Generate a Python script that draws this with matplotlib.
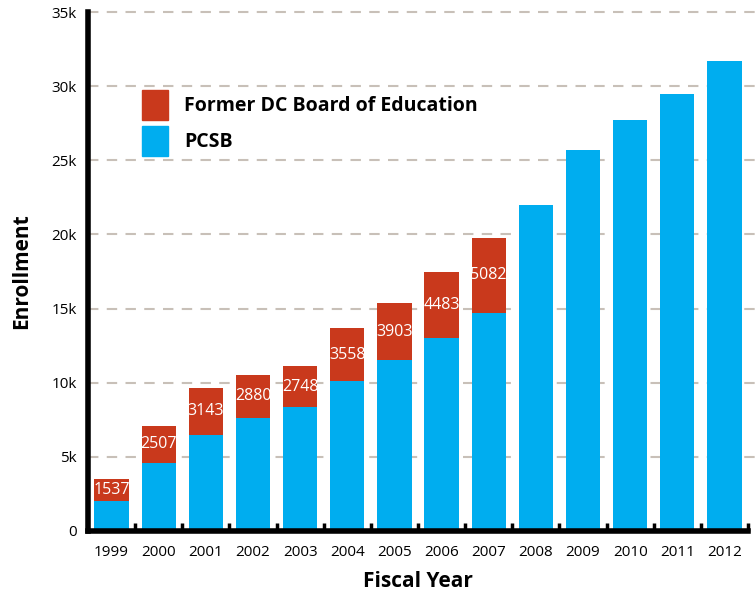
import matplotlib
matplotlib.use("Agg")
from matplotlib import pyplot as plt
from matplotlib.patches import Patch
import numpy as np

plt.rcParams['font.family'] = ['Open Sans', 'DejaVu Sans']

years = ['1999', '2000', '2001', '2002', '2003', '2004', '2005',
         '2006', '2007', '2008', '2009', '2010', '2011', '2012']
pcsb = [2000, 4580, 6500, 7650, 8350, 10100, 11500,
        13000, 14700, 22000, 25700, 27750, 29500, 31700]
former_dcbe = [1537, 2507, 3143, 2880, 2748, 3558, 3903,
               4483, 5082, 0, 0, 0, 0, 0]

BLUE = '#00adef'
RED = '#c9391c'

fig = plt.figure(figsize=(7.56, 5.95), dpi=100)
ax = fig.add_axes([88 / 756, 1 - 531 / 595, 660 / 756, 519 / 595])

x = np.arange(len(years))
ax.bar(x, pcsb, width=0.73, color=BLUE, zorder=2)
ax.bar(x, former_dcbe, width=0.73, bottom=pcsb, color=RED, zorder=2)

for i, v in enumerate(former_dcbe):
    if v > 0:
        ax.text(i, pcsb[i] + v / 2, str(v), ha='center', va='center',
                color='white', fontsize=11.5, zorder=3)

ax.set_xlim(-0.5, len(years) - 0.5)
ax.set_ylim(0, 35000)

yt = np.arange(0, 35001, 5000)
ax.set_yticks(yt)
ax.set_yticklabels(['0'] + ['%dk' % (v // 1000) for v in yt[1:]])
for v in yt[1:]:
    ax.axhline(v, xmin=0, xmax=1.02, color='#c8c0b8', lw=1.5,
               dashes=(5, 4), zorder=1, clip_on=False)

ax.set_xticks(x)
ax.set_xticklabels(years)
ax.set_xticks(np.arange(-0.5, len(years), 1)[1:], minor=True)
ax.tick_params(axis='x', which='major', length=0, pad=10, labelsize=11)
ax.tick_params(axis='x', which='minor', direction='in', length=6,
               width=2.5, color='black')
ax.tick_params(axis='y', length=0, pad=8, labelsize=11)

for s in ['top', 'right']:
    ax.spines[s].set_visible(False)
for s in ['left', 'bottom']:
    ax.spines[s].set_linewidth(4)
    ax.spines[s].set_color('black')

ax.set_xlabel('Fiscal Year', fontsize=15, fontweight='bold', labelpad=8)
ax.set_ylabel('Enrollment', fontsize=15, fontweight='bold', labelpad=14)

handles = [Patch(color=RED, label='Former DC Board of Education'),
           Patch(color=BLUE, label='PCSB')]
leg = ax.legend(handles=handles, loc='upper left',
                bbox_to_anchor=(0.07, 0.865), frameon=False,
                handlelength=1.35, handleheight=2.0, labelspacing=0.3,
                handletextpad=0.8, borderaxespad=0,
                prop={'weight': 'bold', 'size': 14})

fig.savefig('out.png', dpi=100)
